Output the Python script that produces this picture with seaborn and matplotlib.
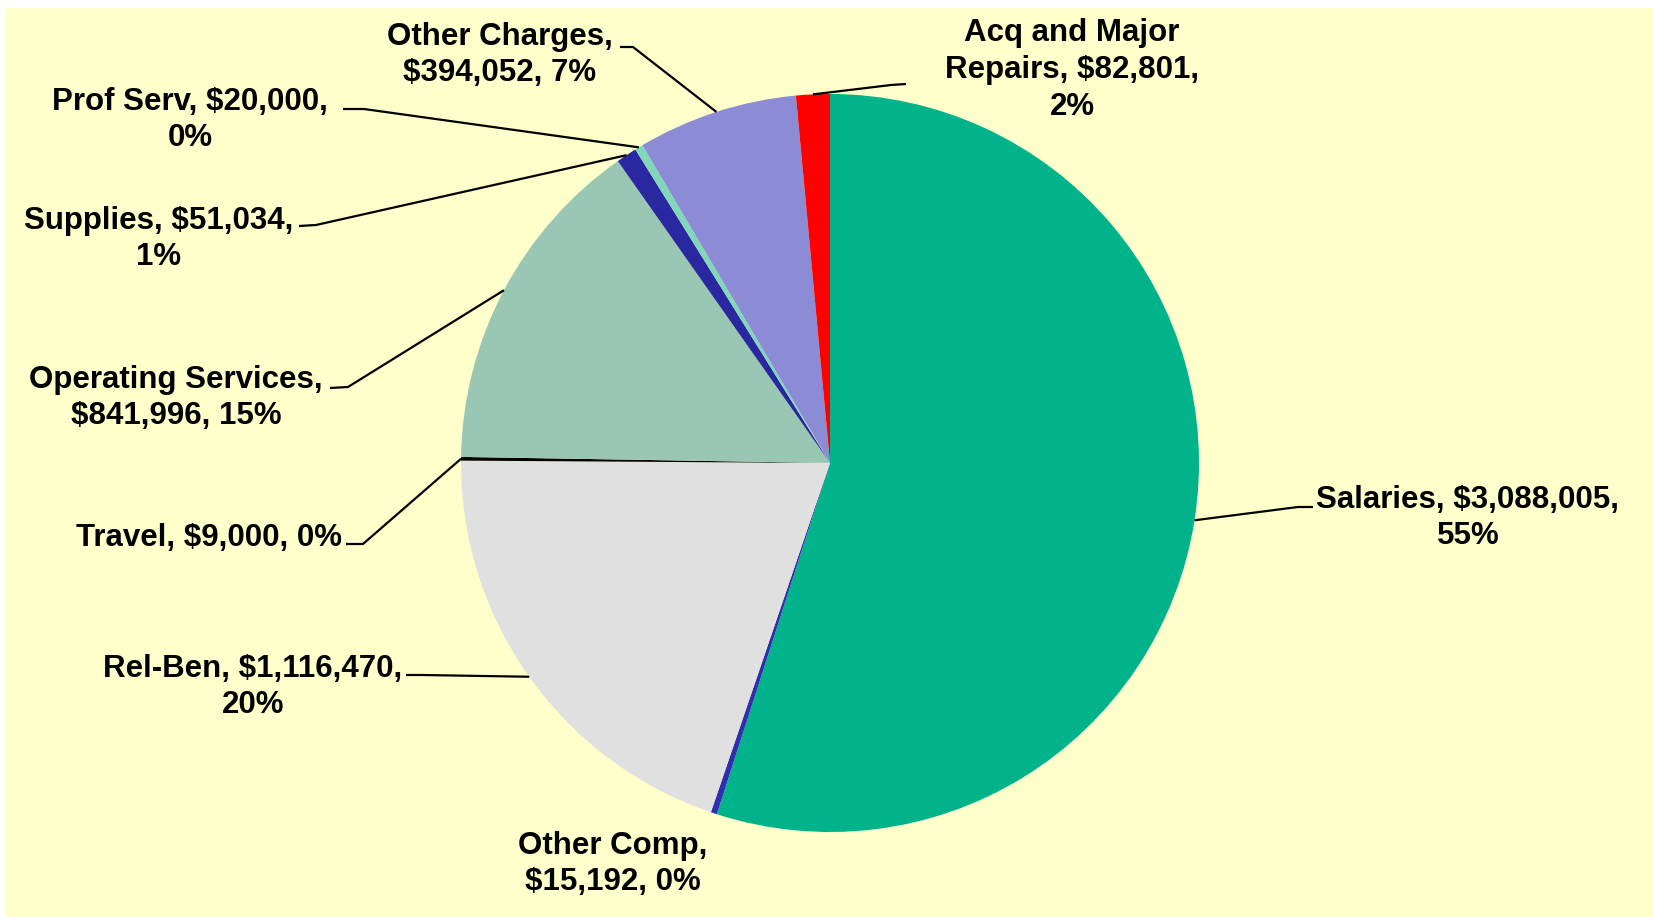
import numpy as np
import matplotlib
matplotlib.use("Agg")
import matplotlib.pyplot as plt
import seaborn as sns
from matplotlib.patches import Rectangle

# data, in pie order (clockwise from 12 o'clock)
categories = ["Salaries", "Other Comp", "Rel-Ben", "Travel", "Operating Services",
              "Supplies", "Prof Serv", "Other Charges", "Acq and Major Repairs"]
amounts = [3088005, 15192, 1116470, 9000, 841996, 51034, 20000, 394052, 82801]
percent_labels = ["55%", "0%", "20%", "0%", "15%", "1%", "0%", "7%", "2%"]
label_text = [
    "Salaries, $3,088,005,\n55%",
    "Other Comp,\n$15,192, 0%",
    "Rel-Ben, $1,116,470,\n20%",
    "Travel, $9,000, 0%",
    "Operating Services,\n$841,996, 15%",
    "Supplies, $51,034,\n1%",
    "Prof Serv, $20,000,\n0%",
    "Other Charges,\n$394,052, 7%",
    "Acq and Major\nRepairs, $82,801,\n2%",
]
slice_colors = ["#00B38A", "#2E2EB0", "#E0E0E0", "#000000", "#99C7B3",
                "#2A28A0", "#80D8B8", "#8B8BD6", "#FF0000"]

sns.set_style("white")
plt.rcParams["font.family"] = ["Liberation Sans", "DejaVu Sans"]

W, H = 1654, 917
fig = plt.figure(figsize=(W / 100, H / 100), dpi=100, facecolor="white")
ax = fig.add_axes([0, 0, 1, 1])
ax.add_patch(Rectangle((6, 0), W - 6, H - 8, facecolor="#FFFFCC", edgecolor="none", zorder=0))

cx, cy, r = 830, H - 463, 369
wedges, _ = ax.pie(amounts, colors=slice_colors, startangle=90, counterclock=False,
                   center=(cx, cy), radius=r, wedgeprops=dict(linewidth=0),
                   frame=True)
for w in wedges:
    w.set_zorder(2)

# label placement (pixel coords, y measured from top), text-side end and elbow of leader
text_pos = [(1468, 518), (613, 864), (253, 687), (209, 538), (176, 398),
            (159, 239), (190, 120), (500, 55), (1072, 70)]
leader = [((1313, 507), (1298, 507)), None, ((406, 675), (422, 675)),
          ((346, 544), (363, 544)), ((330, 388), (348, 387)),
          ((299, 226), (316, 225)), ((343, 109), (364, 109)),
          ((620, 47), (633, 47)), ((906, 84), (891, 85))]

for w, txt, (tx, ty), ld in zip(wedges, label_text, text_pos, leader):
    ax.text(tx, H - ty, txt, ha="center", va="center", fontsize=22.5,
            fontweight="bold", color="black", linespacing=1.3, zorder=4)
    if ld is None:
        continue
    mid = np.deg2rad((w.theta1 + w.theta2) / 2)
    rim = (cx + r * np.cos(mid), cy + r * np.sin(mid))
    (x0, y0), (x1, y1) = ld
    ax.plot([x0, x1, rim[0]], [H - y0, H - y1, rim[1]], color="black", lw=1.6,
            solid_capstyle="butt", zorder=3)

ax.set_xlim(0, W)
ax.set_ylim(0, H)
ax.set_aspect("equal", adjustable="box")
ax.axis("off")

fig.savefig("out.png", dpi=100, facecolor="white")
